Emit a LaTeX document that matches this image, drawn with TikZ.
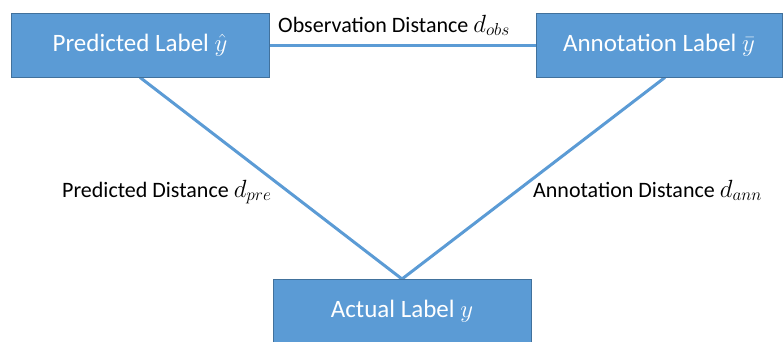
\documentclass[tikz,border=0pt]{standalone}
\usepackage{fontspec}
\setmainfont{Carlito}
\usetikzlibrary{backgrounds}
\definecolor{boxfill}{HTML}{5B9BD5}
\definecolor{boxedge}{HTML}{41719C}
% math symbols are set a little larger than the surrounding text
\newcommand\boxmath[1]{{\fontsize{29}{32}\selectfont$#1$}}
\newcommand\distmath[1]{{\fontsize{26.5}{30}\selectfont$#1$}}
\begin{document}
\begin{tikzpicture}[x=1pt,y=-1pt,
  labelbox/.style={draw=boxedge, line width=0.8pt, fill=boxfill, text=white,
    minimum height=64pt, inner sep=0pt, font=\fontsize{25}{28}\selectfont},
  link/.style={draw=boxfill, line width=3pt},
  distlabel/.style={font=\fontsize{22}{26}\selectfont, inner sep=0pt, anchor=base west}]
  \useasboundingbox (0,0) rectangle (783,341);
  \begin{scope}
    \clip (0,0) rectangle (783,341);
    \node[labelbox, minimum width=258pt] (pred) at (140,45) {Predicted Label \boxmath{\hat{y}}};
    \node[labelbox, minimum width=246pt] (ann) at (659,45) {Annotation Label \boxmath{\bar{y}}};
    \node[labelbox, minimum width=258pt, anchor=north] (act) at (402,279) {Actual Label \boxmath{y}};
  \end{scope}
  \coordinate (annfoot) at ([xshift=6pt]ann.south);
  \begin{scope}[on background layer]
    \draw[link] (pred.east) -- (ann.west);
    \draw[link] (pred.south) -- (act.north);
    \draw[link] (annfoot) -- (act.north);
  \end{scope}
  \node[distlabel] (lobs) at (278,32) {Observation Distance \distmath{d_{obs}}};
  \node[distlabel] (lpre) at (62,197) {Predicted Distance \distmath{d_{pre}}};
  \node[distlabel] (lann) at (533,197) {Annotation Distance \distmath{d_{ann}}};
\end{tikzpicture}
\end{document}
